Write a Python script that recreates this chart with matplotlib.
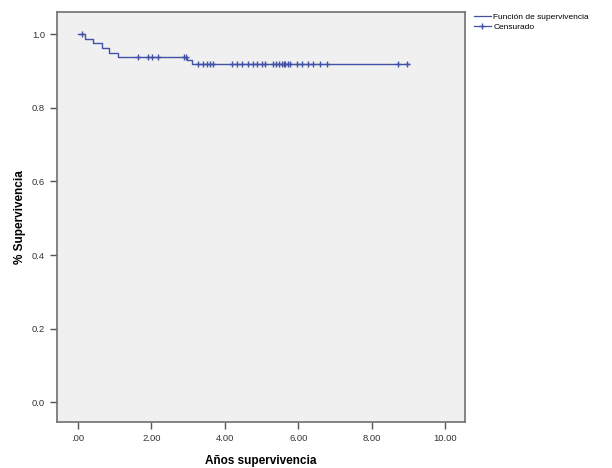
import numpy as np
import matplotlib
matplotlib.use("Agg")
import matplotlib.pyplot as plt
from matplotlib.lines import Line2D
from matplotlib.ticker import FuncFormatter

# Curva de supervivencia (Kaplan-Meier)
step_times = [0.0, 0.19, 0.42, 0.65, 0.85, 1.10, 2.98, 3.10, 9.00]
step_surv = [1.0, 0.9875, 0.975, 0.9625, 0.95, 0.9375, 0.929, 0.920, 0.920]

# Casos censurados
censor_times = [0.12, 1.63, 1.91, 2.02, 2.18, 2.88, 2.95,
                3.27, 3.41, 3.52, 3.60, 3.68, 4.19, 4.32, 4.46,
                4.64, 4.77, 4.88, 5.01, 5.10, 5.32, 5.40, 5.48, 5.55,
                5.60, 5.65, 5.72, 5.78, 5.96, 6.09, 6.27, 6.40, 6.59,
                6.78, 8.72, 8.96]

x_ticks = [0, 2, 4, 6, 8, 10]
y_ticks = [0.0, 0.2, 0.4, 0.6, 0.8, 1.0]

line_color = "#4152a6"

plt.rcParams['font.family'] = ['Liberation Sans', 'DejaVu Sans']

fig = plt.figure(figsize=(6.12, 4.68), dpi=100)
ax = fig.add_axes([0.093, 0.098, 0.667, 0.876])
ax.set_facecolor("#f0f0f0")

ax.step(step_times, step_surv, where="post", color=line_color, linewidth=1.0)

# nivel de la curva en cada censura
idx = np.searchsorted(step_times, censor_times, side="right") - 1
censor_surv = np.array(step_surv)[idx]
ax.plot(censor_times, censor_surv, linestyle="none", marker="+",
        markersize=5, markeredgewidth=1.0, color=line_color)

ax.set_xlim(-0.57, 10.54)
ax.set_ylim(-0.054, 1.06)
ax.set_xticks(x_ticks)
ax.set_yticks(y_ticks)
ax.xaxis.set_major_formatter(FuncFormatter(lambda v, p: ".00" if v == 0 else "%.2f" % v))
ax.yaxis.set_major_formatter(FuncFormatter(lambda v, p: "%.1f" % v))
ax.tick_params(axis="both", direction="out", length=5, width=1, color="#555555",
               labelsize=6.8, labelcolor="#333333")

for s in ax.spines.values():
    s.set_color("#707070")
    s.set_linewidth(1.2)

ax.set_xlabel("Años supervivencia", fontsize=8.5, fontweight="bold", labelpad=9)
ax.set_ylabel("% Supervivencia", fontsize=8.5, fontweight="bold", labelpad=4)

handles = [
    Line2D([], [], color=line_color, linewidth=0.9, drawstyle="steps-post"),
    Line2D([], [], color=line_color, linewidth=0.9, marker="+", markersize=5),
]
fig.legend(handles, ["Función de supervivencia", "Censurado"],
           loc="upper left", bbox_to_anchor=(0.765, 0.985), frameon=False,
           fontsize=6, handlelength=2.0, handletextpad=0.3, labelspacing=0.25,
           borderpad=0.2)

fig.savefig("out.png", dpi=100)
